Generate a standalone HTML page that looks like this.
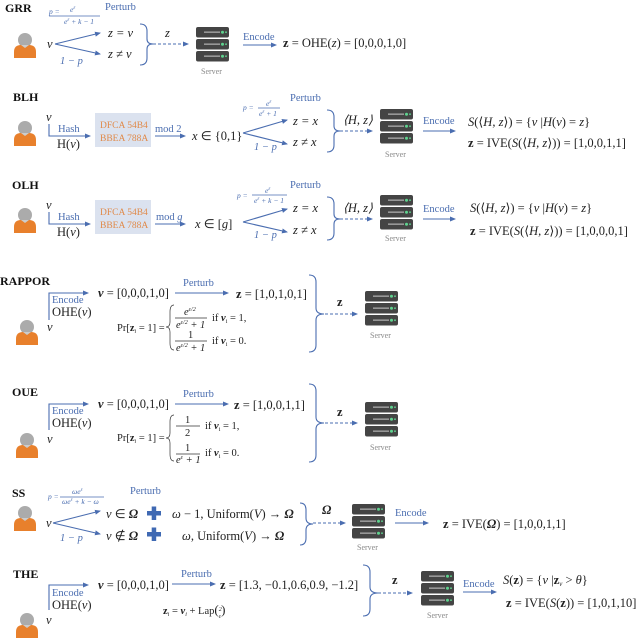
<!DOCTYPE html>
<html><head><meta charset="utf-8"><style>
html,body{margin:0;padding:0;background:#fff}
svg{display:block}
text{font-family:"Liberation Serif",serif;fill:#222}
.b{fill:#4a6db0}
.lb{font-weight:bold;font-size:12px;fill:#111}
.m{font-size:12.5px}
.s{font-size:10.5px}
.t{font-size:7.5px}
.i{font-style:italic}
.sv{font-size:8px;fill:#888}
.or{fill:#e08a4a;font-size:9.5px}
</style></head><body>
<svg width="640" height="640" viewBox="0 0 640 640" xmlns="http://www.w3.org/2000/svg">
<defs>
<marker id="a" markerWidth="6" markerHeight="6" refX="5" refY="3" orient="auto" markerUnits="userSpaceOnUse"><path d="M0,0.5 L6,3 L0,5.5 Z" fill="#4a6db0"/></marker>
<g id="P"><circle cx="0" cy="0" r="7" fill="#ababab"/><path d="M-11,18 L-11,12 Q-11,5 -4,5 L4,5 Q11,5 11,12 L11,18 Z" fill="#e8802c"/><path d="M-4,5 L4,5 L0,8 Z" fill="#ccc"/></g>
<g id="S">
<rect x="0" y="0" width="33" height="10.5" rx="2" fill="#444"/><rect x="0" y="12" width="33" height="10.5" rx="2" fill="#444"/><rect x="0" y="24" width="33" height="10.5" rx="2" fill="#444"/>
<rect x="8" y="4.5" width="16" height="1.3" fill="#aaa"/><rect x="8" y="16.5" width="16" height="1.3" fill="#aaa"/><rect x="8" y="28.5" width="16" height="1.3" fill="#aaa"/>
<circle cx="26.5" cy="5.2" r="1.5" fill="#5fd38f"/><circle cx="30" cy="5.2" r="0.9" fill="#5fd38f"/>
<circle cx="26.5" cy="17.2" r="1.5" fill="#5fd38f"/><circle cx="30" cy="17.2" r="0.9" fill="#5fd38f"/>
<circle cx="26.5" cy="29.2" r="1.5" fill="#5fd38f"/><circle cx="30" cy="29.2" r="0.9" fill="#5fd38f"/>
</g>
</defs>
<g stroke="#4a6db0" stroke-width="1.1" fill="none">
<!-- GRR -->
<path d="M55,44 L100,33" marker-end="url(#a)"/><path d="M55,44 L100,54" marker-end="url(#a)"/>
<path d="M140,24 Q147,24 147,31 L147,39 Q147,44 153,44 Q147,44 147,49 L147,58 Q147,65 140,65"/>
<path d="M153,44 L188,44" stroke-dasharray="3,2" marker-end="url(#a)"/>
<path d="M243,45 L276,45" marker-end="url(#a)"/>
<path d="M49,16 L100,16" stroke-width="0.7"/>
<!-- BLH -->
<path d="M49,124 L49,136 L90,136" marker-end="url(#a)"/>
<path d="M155,136 L185,136" marker-end="url(#a)"/>
<path d="M243,133 L287,120" marker-end="url(#a)"/><path d="M243,133 L287,144" marker-end="url(#a)"/>
<path d="M327,110 Q334,110 334,117 L334,126 Q334,131 340,131 Q334,131 334,136 L334,145 Q334,152 327,152"/>
<path d="M340,131 L372,131" stroke-dasharray="3,2" marker-end="url(#a)"/>
<path d="M423,131 L455,131" marker-end="url(#a)"/>
<path d="M258,108 L280,108" stroke-width="0.7"/>
<!-- OLH -->
<path d="M49,212 L49,224 L90,224" marker-end="url(#a)"/>
<path d="M155,224 L185,224" marker-end="url(#a)"/>
<path d="M243,222 L287,209" marker-end="url(#a)"/><path d="M243,222 L287,232" marker-end="url(#a)"/>
<path d="M327,197 Q334,197 334,204 L334,214 Q334,219 340,219 Q334,219 334,224 L334,233 Q334,240 327,240"/>
<path d="M340,219 L372,219" stroke-dasharray="3,2" marker-end="url(#a)"/>
<path d="M423,219 L455,219" marker-end="url(#a)"/>
<path d="M252,195 L287,195" stroke-width="0.7"/>
<!-- RAPPOR -->
<path d="M49,320 L49,293 L88,293" marker-end="url(#a)"/>
<path d="M175,293 L228,293" marker-end="url(#a)"/>
<path d="M309,275 Q316,275 316,282 L316,308 Q316,314 324,314 Q316,314 316,320 L316,345 Q316,352 309,352"/>
<path d="M325,314 L357,314" stroke-dasharray="3,2" marker-end="url(#a)"/>
<!-- OUE -->
<path d="M49,430 L49,404 L88,404" marker-end="url(#a)"/>
<path d="M175,404 L228,404" marker-end="url(#a)"/>
<path d="M309,384 Q316,384 316,391 L316,417 Q316,423 324,423 Q316,423 316,429 L316,455 Q316,462 309,462"/>
<path d="M325,423 L357,423" stroke-dasharray="3,2" marker-end="url(#a)"/>
<!-- SS -->
<path d="M53,523 L100,511" marker-end="url(#a)"/><path d="M53,523 L100,534" marker-end="url(#a)"/>
<path d="M300,503 Q306,503 306,510 L306,518 Q306,524 313,524 Q306,524 306,530 L306,538 Q306,545 300,545"/>
<path d="M313,523 L345,523" stroke-dasharray="3,2" marker-end="url(#a)"/>
<path d="M395,523 L428,523" marker-end="url(#a)"/>
<path d="M60,497 L104,497" stroke-width="0.7"/>
<!-- THE -->
<path d="M49,610 L49,585 L88,585" marker-end="url(#a)"/>
<path d="M172,584 L215,584" marker-end="url(#a)"/>
<path d="M363,565 Q370,565 370,572 L370,587 Q370,593 378,593 Q370,593 370,599 L370,609 Q370,616 363,616"/>
<path d="M378,593 L412,593" stroke-dasharray="3,2" marker-end="url(#a)"/>
<path d="M463,592 L496,592" marker-end="url(#a)"/>
</g>
<g stroke="#333" stroke-width="0.7" fill="none">
<path d="M175,318 L207,318"/><path d="M175,341 L207,341"/>
<path d="M176,426 L200,426"/><path d="M176,454 L200,454"/>
<path d="M174,305 Q170,305 170,312 L170,322 Q170,327 166,327 Q170,327 170,332 L170,343 Q170,350 174,350"/>
<path d="M174,415 Q170,415 170,422 L170,433 Q170,438 166,438 Q170,438 170,443 L170,454 Q170,461 174,461"/>
</g>
<!-- icons -->
<use href="#P" x="25" y="40"/><use href="#P" x="25" y="128"/><use href="#P" x="25" y="215"/>
<use href="#P" x="27" y="327"/><use href="#P" x="27" y="440"/><use href="#P" x="25" y="513"/><use href="#P" x="27" y="620"/>
<use href="#S" x="196" y="27"/><use href="#S" x="380" y="109"/><use href="#S" x="380" y="195"/>
<use href="#S" x="365" y="291"/><use href="#S" x="365" y="402"/><use href="#S" x="352" y="504"/><use href="#S" x="421" y="571"/>
<rect x="95" y="113" width="56" height="34" fill="#dbe2ef"/><rect x="95" y="200" width="56" height="34" fill="#dbe2ef"/>
<!-- GRR -->
<text x="5" y="12" class="lb">GRR</text>
<text x="105" y="10" class="s b">Perturb</text>
<text x="49" y="14" class="t b i">p =</text><text x="70" y="12" class="t b i">e<tspan font-size="5" dy="-3">ε</tspan></text><text x="64" y="24" class="t b i">e<tspan font-size="5" dy="-3">ε</tspan><tspan dy="3"> + k − 1</tspan></text>
<text x="47" y="48" class="m i">v</text>
<text x="60" y="64" class="s b i">1 − p</text>
<text x="108" y="37" class="m i">z = v</text><text x="108" y="58" class="m i">z ≠ v</text>
<text x="165" y="37" class="m i">z</text>
<text x="201" y="74" class="sv">Server</text>
<text x="243" y="40" class="s b">Encode</text>
<text x="283" y="47" class="m"><tspan font-weight="bold">z</tspan> = OHE(<tspan class="i">z</tspan>) = [0,0,0,1,0]</text>
<!-- BLH -->
<text x="13" y="101" class="lb">BLH</text>
<text x="46" y="121" class="m i">v</text>
<text x="58" y="132" class="s b">Hash</text><text x="57" y="148" class="m">H(<tspan class="i">v</tspan>)</text>
<text x="100" y="128" class="or">DFCA 54B4</text><text x="100" y="141" class="or">BBEA 788A</text>
<text x="155" y="132" class="s b">mod 2</text>
<text x="192" y="140" class="m"><tspan class="i">x</tspan> ∈ {0,1}</text>
<text x="290" y="101" class="s b">Perturb</text>
<text x="243" y="110" class="t b i">p =</text><text x="266" y="106" class="t b i">e<tspan font-size="5" dy="-3">ε</tspan></text><text x="259" y="116" class="t b i">e<tspan font-size="5" dy="-3">ε</tspan><tspan dy="3"> + 1</tspan></text>
<text x="293" y="125" class="m i">z = x</text><text x="293" y="146" class="m i">z ≠ x</text>
<text x="254" y="150" class="s b i">1 − p</text>
<text x="343" y="124" class="m i">⟨H, z⟩</text>
<text x="385" y="157" class="sv">Server</text>
<text x="423" y="124" class="s b">Encode</text>
<text x="468" y="126" class="m"><tspan class="i">S</tspan>(⟨<tspan class="i">H, z</tspan>⟩) =  {<tspan class="i">v</tspan> |<tspan class="i">H</tspan>(<tspan class="i">v</tspan>) = <tspan class="i">z</tspan>}</text>
<text x="468" y="147" class="m"><tspan font-weight="bold">z</tspan> = IVE(<tspan class="i">S</tspan>(⟨<tspan class="i">H, z</tspan>⟩)) = [1,0,0,1,1]</text>
<!-- OLH -->
<text x="12" y="189" class="lb">OLH</text>
<text x="46" y="209" class="m i">v</text>
<text x="58" y="220" class="s b">Hash</text><text x="57" y="236" class="m">H(<tspan class="i">v</tspan>)</text>
<text x="100" y="215" class="or">DFCA 54B4</text><text x="100" y="228" class="or">BBEA 788A</text>
<text x="156" y="220" class="s b">mod <tspan class="i">g</tspan></text>
<text x="195" y="228" class="m"><tspan class="i">x</tspan> ∈ [<tspan class="i">g</tspan>]</text>
<text x="290" y="188" class="s b">Perturb</text>
<text x="237" y="198" class="t b i">p =</text><text x="265" y="193" class="t b i">e<tspan font-size="5" dy="-3">ε</tspan></text><text x="254" y="203" class="t b i">e<tspan font-size="5" dy="-3">ε</tspan><tspan dy="3"> + k − 1</tspan></text>
<text x="293" y="212" class="m i">z = x</text><text x="293" y="234" class="m i">z ≠ x</text>
<text x="254" y="238" class="s b i">1 − p</text>
<text x="343" y="212" class="m i">⟨H, z⟩</text>
<text x="385" y="241" class="sv">Server</text>
<text x="423" y="212" class="s b">Encode</text>
<text x="470" y="212" class="m"><tspan class="i">S</tspan>(⟨<tspan class="i">H, z</tspan>⟩) =  {<tspan class="i">v</tspan> |<tspan class="i">H</tspan>(<tspan class="i">v</tspan>) = <tspan class="i">z</tspan>}</text>
<text x="470" y="235" class="m"><tspan font-weight="bold">z</tspan> = IVE(<tspan class="i">S</tspan>(⟨<tspan class="i">H, z</tspan>⟩)) = [1,0,0,0,1]</text>
<!-- RAPPOR -->
<text x="0" y="285" class="lb">RAPPOR</text>
<text x="52" y="303" class="s b">Encode</text><text x="52" y="316" class="m">OHE(<tspan class="i">v</tspan>)</text>
<text x="47" y="331" class="m i">v</text>
<text x="98" y="297" class="m"><tspan font-weight="bold" class="i">v</tspan> = [0,0,0,1,0]</text>
<text x="183" y="286" class="s b">Perturb</text>
<text x="236" y="298" class="m"><tspan font-weight="bold">z</tspan> = [1,0,1,0,1]</text>
<text x="117" y="331" class="s">Pr[<tspan font-weight="bold">z</tspan><tspan font-size="6" dy="2" class="i">i</tspan><tspan dy="-2"> = 1] =</tspan></text>
<text x="184" y="315" class="s i">e<tspan font-size="6" dy="-4">ε/2</tspan></text>
<text x="176" y="328" class="s i">e<tspan font-size="6" dy="-4">ε/2</tspan><tspan dy="4"> + 1</tspan></text>
<text x="188" y="338" class="s">1</text>
<text x="176" y="351" class="s i">e<tspan font-size="6" dy="-4">ε/2</tspan><tspan dy="4"> + 1</tspan></text>
<text x="212" y="321" class="s">if <tspan font-weight="bold" class="i">v</tspan><tspan font-size="6" dy="2">i</tspan><tspan dy="-2"> = 1,</tspan></text>
<text x="212" y="344" class="s">if <tspan font-weight="bold" class="i">v</tspan><tspan font-size="6" dy="2">i</tspan><tspan dy="-2"> = 0.</tspan></text>
<text x="337" y="306" class="m" font-weight="bold">z</text>
<text x="370" y="338" class="sv">Server</text>
<!-- OUE -->
<text x="12" y="396" class="lb">OUE</text>
<text x="52" y="414" class="s b">Encode</text><text x="52" y="427" class="m">OHE(<tspan class="i">v</tspan>)</text>
<text x="47" y="443" class="m i">v</text>
<text x="98" y="408" class="m"><tspan font-weight="bold" class="i">v</tspan> = [0,0,0,1,0]</text>
<text x="183" y="397" class="s b">Perturb</text>
<text x="234" y="409" class="m"><tspan font-weight="bold">z</tspan> = [1,0,0,1,1]</text>
<text x="117" y="441" class="s">Pr[<tspan font-weight="bold">z</tspan><tspan font-size="6" dy="2" class="i">i</tspan><tspan dy="-2"> = 1] =</tspan></text>
<text x="185" y="423" class="s">1</text><text x="185" y="436" class="s">2</text>
<text x="185" y="451" class="s">1</text>
<text x="176" y="463" class="s i">e<tspan font-size="6" dy="-4">ε</tspan><tspan dy="4"> + 1</tspan></text>
<text x="205" y="429" class="s">if <tspan font-weight="bold" class="i">v</tspan><tspan font-size="6" dy="2">i</tspan><tspan dy="-2"> = 1,</tspan></text>
<text x="205" y="456" class="s">if <tspan font-weight="bold" class="i">v</tspan><tspan font-size="6" dy="2">i</tspan><tspan dy="-2"> = 0.</tspan></text>
<text x="337" y="416" class="m" font-weight="bold">z</text>
<text x="370" y="450" class="sv">Server</text>
<!-- SS -->
<text x="12" y="497" class="lb">SS</text>
<text x="130" y="494" class="s b">Perturb</text>
<text x="48" y="499" class="t b i">p =</text><text x="72" y="494" class="t b i">ωe<tspan font-size="5" dy="-3">ε</tspan></text><text x="62" y="504" class="t b i">ωe<tspan font-size="5" dy="-3">ε</tspan><tspan dy="3"> + k − ω</tspan></text>
<text x="46" y="527" class="m i">v</text>
<text x="60" y="541" class="s b i">1 − p</text>
<text x="106" y="518" class="m"><tspan class="i">v</tspan> ∈ <tspan class="i" font-weight="bold">Ω</tspan></text>
<text x="106" y="540" class="m"><tspan class="i">v</tspan> ∉ <tspan class="i" font-weight="bold">Ω</tspan></text>
<g fill="#3f69b3"><rect x="147" y="511" width="14" height="4.5"/><rect x="151.7" y="506.5" width="4.5" height="13.5"/><rect x="147" y="532" width="14" height="4.5"/><rect x="151.7" y="527.5" width="4.5" height="13.5"/></g>
<text x="172" y="518" class="m"><tspan class="i">ω</tspan> − 1, Uniform(<tspan class="i">V</tspan>) → <tspan class="i" font-weight="bold">Ω</tspan></text>
<text x="182" y="540" class="m"><tspan class="i">ω</tspan>, Uniform(<tspan class="i">V</tspan>) → <tspan class="i" font-weight="bold">Ω</tspan></text>
<text x="322" y="514" class="m i" font-weight="bold">Ω</text>
<text x="357" y="550" class="sv">Server</text>
<text x="395" y="516" class="s b">Encode</text>
<text x="443" y="528" class="m"><tspan font-weight="bold">z</tspan> = IVE(<tspan class="i" font-weight="bold">Ω</tspan>) = [1,0,0,1,1]</text>
<!-- THE -->
<text x="13" y="578" class="lb">THE</text>
<text x="52" y="596" class="s b">Encode</text><text x="52" y="609" class="m">OHE(<tspan class="i">v</tspan>)</text>
<text x="46" y="624" class="m i">v</text>
<text x="98" y="589" class="m"><tspan font-weight="bold" class="i">v</tspan> = [0,0,0,1,0]</text>
<text x="181" y="577" class="s b">Perturb</text>
<text x="220" y="589" class="m"><tspan font-weight="bold">z</tspan> = [1.3, −0.1,0.6,0.9, −1.2]</text>
<text x="163" y="614" class="s"><tspan font-weight="bold">z</tspan><tspan font-size="6" dy="2" class="i">i</tspan><tspan dy="-2"> = </tspan><tspan font-weight="bold" class="i">v</tspan><tspan font-size="6" dy="2" class="i">i</tspan><tspan dy="-2"> + Lap</tspan><tspan font-size="13">(</tspan><tspan font-size="6" class="i" dy="-3">2</tspan><tspan font-size="6" class="i" dx="-3" dy="7">ε</tspan><tspan font-size="13" dy="-4">)</tspan></text>
<text x="392" y="584" class="m" font-weight="bold">z</text>
<text x="427" y="618" class="sv">Server</text>
<text x="463" y="587" class="s b">Encode</text>
<text x="503" y="584" class="m"><tspan class="i">S</tspan>(<tspan font-weight="bold">z</tspan>) =  {<tspan class="i">v</tspan> |<tspan font-weight="bold">z</tspan><tspan font-size="7" class="i" dy="2">v</tspan><tspan dy="-2"> &gt; </tspan><tspan class="i">θ</tspan>}</text>
<text x="506" y="607" class="m"><tspan font-weight="bold">z</tspan> = IVE(<tspan class="i">S</tspan>(<tspan font-weight="bold">z</tspan>)) = [1,0,1,10]</text>
</svg>
</body></html>
